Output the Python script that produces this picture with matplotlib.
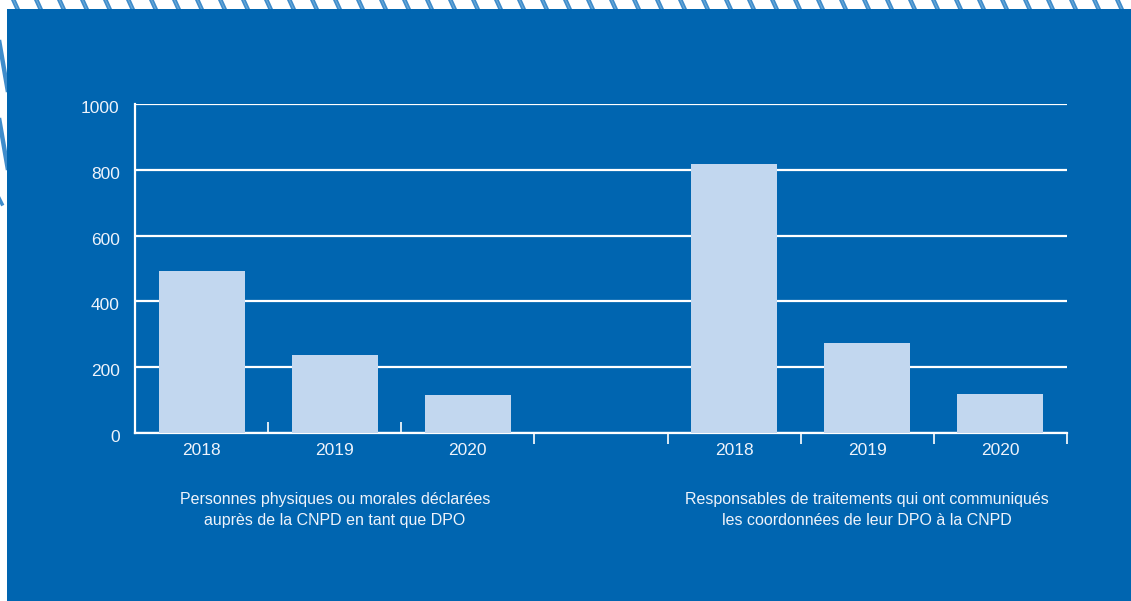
import matplotlib.pyplot as plt
import matplotlib.patches as patches
import matplotlib.transforms as mtransforms
from matplotlib.lines import Line2D

# data
years = ["2018", "2019", "2020"]
dpo_declared = [492, 237, 115]
dpo_communicated = [818, 274, 119]
group_labels = [
    "Personnes physiques ou morales déclarées\nauprès de la CNPD en tant que DPO",
    "Responsables de traitements qui ont communiqués\nles coordonnées de leur DPO à la CNPD",
]
y_ticks = [0, 200, 400, 600, 800, 1000]

BLUE = "#0065b0"
STRIPE = "#3f8ccb"
BAR = "#c2d7ef"
TEXT = "#eef3fb"

plt.rcParams['font.family'] = ['Liberation Sans Narrow', 'Liberation Sans', 'DejaVu Sans']

W, H = 1131, 601
fig = plt.figure(figsize=(W / 100, H / 100), dpi=100, facecolor="white")

# background layer in pixel coordinates
bg = fig.add_axes([0, 0, 1, 1])
bg.set_xlim(0, W)
bg.set_ylim(H, 0)
bg.axis("off")
# diagonal stripes along the top edge
for x0 in range(-10, W + 20, 23):
    bg.add_line(Line2D([x0, x0 + 5], [-1, 10], color=STRIPE, lw=3.2, solid_capstyle="butt"))
    bg.add_line(Line2D([x0, x0 + 5], [-1, 10], color="#6aaad8", lw=0.8, solid_capstyle="butt"))
# a few steep stripes along the left edge
for y0 in (40, 118):
    bg.add_line(Line2D([-1, 8], [y0, y0 + 52], color=STRIPE, lw=3.2, solid_capstyle="butt"))
bg.add_line(Line2D([-1, 2], [198, 204], color=STRIPE, lw=2.5))
bg.add_patch(patches.Rectangle((7, 9), W - 7, H - 9, facecolor=BLUE, edgecolor="none", zorder=3))

# chart
ax = fig.add_axes([135 / W, 1 - 433 / H, (1067 - 135) / W, (433 - 104) / H])
ax.set_facecolor("none")
values = dpo_declared + [0] + dpo_communicated
labels = years + [""] + years
xs = list(range(len(values)))
ax.bar([x for x, l in zip(xs, labels) if l],
       [v for v, l in zip(values, labels) if l],
       width=0.645, color=BAR, zorder=3)

ax.set_xlim(-0.5, len(values) - 0.5)
ax.set_ylim(0, 1000)
ax.set_yticks(y_ticks)
ax.set_yticklabels([str(t) for t in y_ticks])
ax.grid(axis="y", color="white", lw=1.6, zorder=1)
ax.tick_params(axis="y", length=0, pad=11, labelcolor=TEXT, labelsize=12.5)
# nudge the value labels slightly below their gridlines
shift = mtransforms.ScaledTranslation(0, -3 / 100, fig.dpi_scale_trans)
for lbl in ax.get_yticklabels():
    lbl.set_transform(lbl.get_transform() + shift)

ax.set_xticks(xs)
ax.set_xticklabels(labels)
ax.tick_params(axis="x", which="major", length=0, pad=7, labelcolor=TEXT, labelsize=12.5)
# boundary ticks between slots
ax.set_xticks([2.5, 3.5, 4.5, 5.5, 6.5], minor=True)
ax.tick_params(axis="x", which="minor", direction="out", length=8, width=1.2, color="white")
inner = ax.secondary_xaxis("bottom")
inner.set_xticks([0.5, 1.5])
inner.set_xticklabels(["", ""])
inner.tick_params(direction="in", length=8, width=1.2, color="white")
inner.spines["bottom"].set_visible(False)

for s in ("top", "right"):
    ax.spines[s].set_visible(False)
for s in ("left", "bottom"):
    ax.spines[s].set_color("white")
    ax.spines[s].set_linewidth(1.6)

# group captions under the year labels
for x, text in zip((1, 5), group_labels):
    ax.text(x, -0.18, text, transform=ax.get_xaxis_transform(), ha="center", va="top",
            color=TEXT, fontsize=11.5, linespacing=1.45)

fig.savefig("out.png", dpi=100, facecolor="white")
